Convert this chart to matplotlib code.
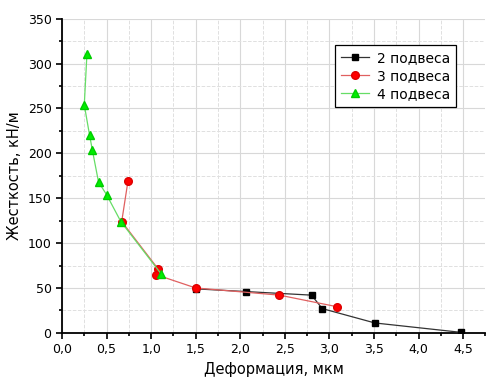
import matplotlib.pyplot as plt
from matplotlib.ticker import MultipleLocator, FuncFormatter

# 2 подвеса
x2 = [1.50, 2.06, 2.80, 2.92, 3.51, 4.48]
y2 = [49, 46, 42, 27, 11, 0.5]

# 3 подвеса
x3 = [0.74, 0.67, 1.08, 1.05, 1.50, 2.44, 3.09]
y3 = [169, 124, 71, 65, 50, 42, 29]

# 4 подвеса
x4 = [0.28, 0.25, 0.31, 0.34, 0.41, 0.50, 0.66, 1.11]
y4 = [311, 254, 220, 204, 168, 154, 124, 66]

labels = ["2 подвеса", "3 подвеса", "4 подвеса"]

fig = plt.figure(figsize=(4.94, 3.83), dpi=100)
ax = fig.add_axes([0.1255, 0.131, 0.857, 0.82])

ax.plot(x2, y2, color="#333333", lw=0.9, marker="s", ms=4.5, mfc="black", mec="black", label=labels[0], zorder=3)
ax.plot(x3, y3, color="#e06060", lw=0.9, marker="o", ms=5.5, mfc="#ff0000", mec="#dd0000", label=labels[1], zorder=4)
ax.plot(x4, y4, color="#66dd66", lw=0.9, marker="^", ms=6, mfc="#00ee00", mec="#00cc00", label=labels[2], zorder=5)

ax.set_xlim(0, 4.75)
ax.set_ylim(0, 350)
ax.xaxis.set_major_locator(MultipleLocator(0.5))
ax.xaxis.set_minor_locator(MultipleLocator(0.25))
ax.yaxis.set_major_locator(MultipleLocator(50))
ax.yaxis.set_minor_locator(MultipleLocator(25))
ax.xaxis.set_major_formatter(FuncFormatter(lambda v, p: f"{v:.1f}".replace(".", ",")))

ax.grid(which="major", color="#d8d8d8", lw=0.8)
ax.grid(which="minor", color="#e0e0e0", lw=0.7, ls="--")
ax.set_axisbelow(True)

for s in ["top", "right"]:
    ax.spines[s].set_visible(False)
for s in ["left", "bottom"]:
    ax.spines[s].set_linewidth(1.3)
ax.tick_params(which="major", direction="out", length=4, width=1.2, labelsize=9)
ax.tick_params(which="minor", direction="out", length=2.5, width=1.2)

ax.set_xlabel("Деформация, мкм", fontsize=10.5)
ax.set_ylabel("Жесткость, кН/м", fontsize=10.5)

leg = ax.legend(loc="upper right", bbox_to_anchor=(0.93, 0.915), borderaxespad=0, fontsize=10,
                fancybox=False, framealpha=1, edgecolor="black", handlelength=2.0,
                borderpad=0.4, labelspacing=0.3, handletextpad=0.6)
leg.get_frame().set_linewidth(0.9)

plt.savefig("out.png", dpi=100)
